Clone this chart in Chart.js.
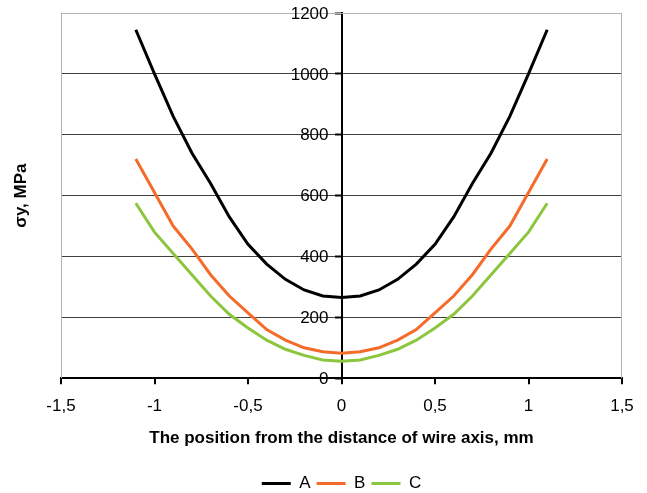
<!DOCTYPE html>
<html>
<head>
<meta charset="utf-8">
<script src="https://cdn.jsdelivr.net/npm/chart.js@4/dist/chart.umd.min.js"></script>
<style>
  html, body { margin: 0; padding: 0; background: #fff; }
  #wrap { width: 647px; height: 493px; position: relative; }
</style>
</head>
<body>
<div id="wrap"><canvas id="chart"></canvas></div>
<script>
// ── Data ──
var positions = [-1.1, -1.0, -0.9, -0.8, -0.7, -0.6, -0.5, -0.4, -0.3, -0.2, -0.1, 0,
                 0.1, 0.2, 0.3, 0.4, 0.5, 0.6, 0.7, 0.8, 0.9, 1.0, 1.1];
var seriesA = [1145, 1000, 860, 740, 640, 530, 440, 375, 325, 290, 270, 265,
               270, 290, 325, 375, 440, 530, 640, 740, 860, 1000, 1145];
var seriesB = [720, 610, 500, 425, 340, 270, 215, 160, 125, 100, 87, 82,
               87, 100, 125, 160, 215, 270, 340, 425, 500, 610, 720];
var seriesC = [575, 480, 410, 340, 270, 210, 165, 125, 95, 75, 60, 56,
               60, 75, 95, 125, 165, 210, 270, 340, 410, 480, 575];
var seriesNames = ['A', 'B', 'C'];
var seriesColors = ['#000000', '#f46b2a', '#8cc63f'];
var xTitle = 'The position from the distance of wire axis, mm';
var yTitle = 'σy, MPa';

var FONT = "'Liberation Sans', Arial, sans-serif";

function toPoints(vals) {
  return vals.map(function(v, i) { return { x: positions[i], y: v }; });
}

// light grey frame round the plot area, y tick labels left of the centred
// axis, and the rotated y title at the far left
var framePlugin = {
  id: 'frame',
  beforeDatasetsDraw: function(chart) {
    var a = chart.chartArea, ctx = chart.ctx;
    ctx.save();
    ctx.strokeStyle = '#b4b4b4';
    ctx.lineWidth = 1;
    ctx.beginPath();
    ctx.moveTo(a.left + 0.5, a.bottom);
    ctx.lineTo(a.left + 0.5, a.top + 0.5);
    ctx.lineTo(a.right - 0.5, a.top + 0.5);
    ctx.lineTo(a.right - 0.5, a.bottom);
    ctx.stroke();
    ctx.restore();
  },
  afterDraw: function(chart) {
    var a = chart.chartArea, ctx = chart.ctx;
    var ys = chart.scales.y, xs = chart.scales.x;
    var axisX = xs.getPixelForValue(0);
    ctx.save();
    ctx.font = '17px ' + FONT;
    ctx.fillStyle = '#000';
    ctx.textAlign = 'right';
    ctx.textBaseline = 'middle';
    ys.ticks.forEach(function(t) {
      ctx.fillText(String(t.value), axisX - 13, ys.getPixelForValue(t.value) + 1);
    });
    ctx.restore();

    ctx.save();
    ctx.translate(21, (a.top + a.bottom) / 2);
    ctx.rotate(-Math.PI / 2);
    ctx.font = 'bold 17px ' + FONT;
    ctx.fillStyle = '#000';
    ctx.textAlign = 'center';
    ctx.textBaseline = 'middle';
    ctx.fillText(yTitle, 0, 0);
    ctx.restore();
  }
};

new Chart(document.getElementById('chart'), {
  type: 'line',
  data: {
    datasets: seriesNames.map(function(name, i) {
      return {
        label: name,
        data: toPoints([seriesA, seriesB, seriesC][i]),
        borderColor: seriesColors[i],
        backgroundColor: seriesColors[i],
        borderWidth: 3,
        pointRadius: 0,
        tension: 0,
        fill: false
      };
    })
  },
  options: {
    responsive: true,
    maintainAspectRatio: false,
    animation: false,
    layout: { padding: { left: 61, right: 25, top: 13, bottom: -9 } },
    plugins: {
      legend: {
        position: 'bottom',
        labels: {
          color: '#000',
          font: { family: FONT, size: 17 },
          usePointStyle: true,
          pointStyle: 'line',
          pointStyleWidth: 29,
          boxHeight: 17,
          padding: 6
        }
      },
      tooltip: { enabled: false }
    },
    scales: {
      x: {
        type: 'linear',
        min: -1.5,
        max: 1.5,
        border: { color: '#000', width: 2 },
        grid: { drawOnChartArea: false, color: '#000', lineWidth: 2, tickLength: 6 },
        ticks: {
          stepSize: 0.5,
          color: '#000',
          padding: 12,
          font: { family: FONT, size: 17 },
          callback: function(v) { return String(v).replace('.', ','); }
        },
        title: {
          display: true,
          text: xTitle,
          color: '#000',
          font: { family: FONT, size: 17, weight: 'bold' },
          padding: { top: 0, bottom: 20 }
        }
      },
      y: {
        position: { x: 0 },
        min: 0,
        max: 1200,
        border: { color: '#000', width: 2 },
        grid: {
          color: function(c) { return c.tick && c.tick.value === 1200 ? '#b4b4b4' : '#404040'; },
          lineWidth: 1,
          tickColor: '#000',
          tickWidth: 2,
          tickLength: 6
        },
        ticks: {
          stepSize: 200,
          display: false
        }
      }
    }
  },
  plugins: [framePlugin]
});
</script>
</body>
</html>
